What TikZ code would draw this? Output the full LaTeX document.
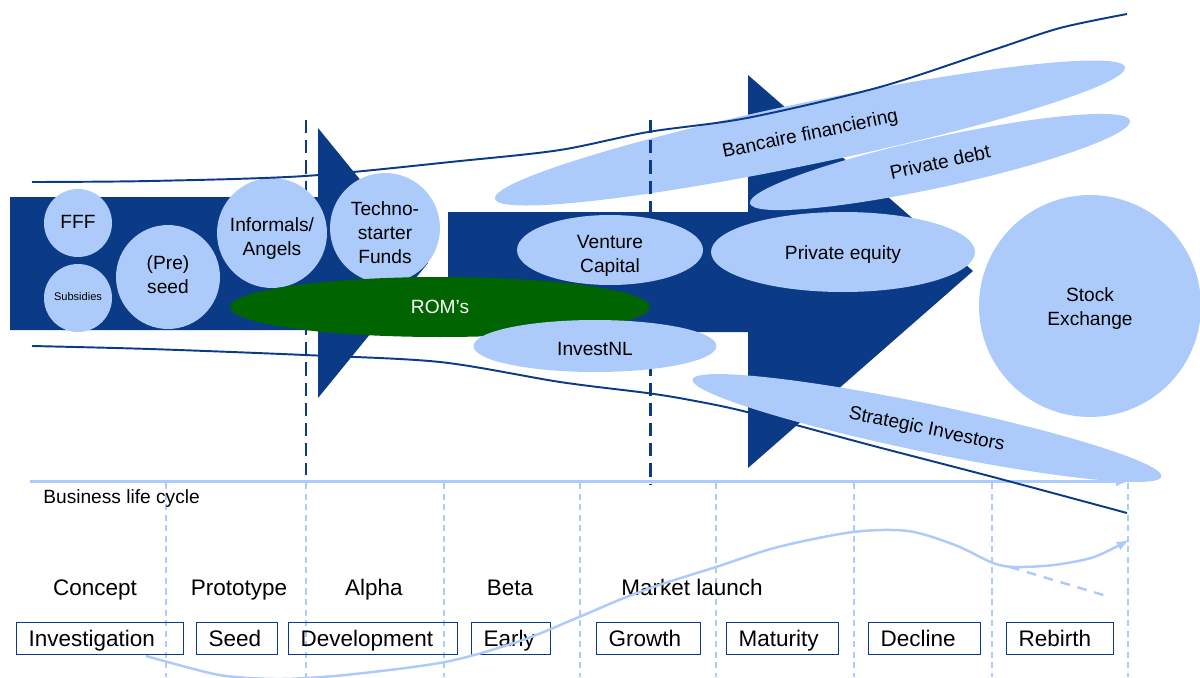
\documentclass[tikz,border=0pt]{standalone}
\usepackage{fontspec}
\setmainfont{Liberation Sans}
\usepackage{xcolor}
\usepackage{tikz}
\usetikzlibrary{shapes,shapes.geometric}
\usetikzlibrary{arrows}

\definecolor{navy}{RGB}{11,58,135}
\definecolor{sky}{RGB}{173,203,250}
\definecolor{romgreen}{RGB}{0,100,0}

% label text, lowered a little inside its shape
\newcommand{\shiftlabel}[2]{\raisebox{-#1}[\height][\depth]{\begin{tabular}{@{}c@{}}#2\end{tabular}}}

\begin{document}
\begin{tikzpicture}[x=0.02cm,y=-0.02cm,
    every node/.style={inner sep=0pt,font=\fontsize{10.9}{13.6}\selectfont},
    bubble/.style={circle,fill=sky},
    blob/.style={ellipse,fill=sky},
    stage/.style={anchor=base,font=\fontsize{12.8}{15}\selectfont},
    stagebox/.style={draw=navy,line width=0.6pt,minimum height=0.632cm,
        inner xsep=0.24cm,align=left,anchor=west,text height=9.17pt,text depth=0pt,
        font=\fontsize{12.8}{15}\selectfont}]

    \useasboundingbox (0,0) rectangle (1200,677);

    %the two dark arrows: early stage and later stage
    \fill[navy] (10,197) -- (318,197) -- (318,128) -- (428,263)
        -- (318,398) -- (318,330) -- (10,330) -- cycle;
    \fill[navy] (448,212) -- (748,212) -- (748,75) -- (973,271)
        -- (748,468) -- (748,332) -- (448,332) -- cycle;

    %debt on top of the big head
    \node[blob,minimum width=12.88cm,minimum height=1.24cm,rotate=11.8] (bank)
        at (810,133) {\shiftlabel{1.1pt}{Bancaire financiering}};
    \node[blob,minimum width=7.78cm,minimum height=1.0cm,rotate=12.3] (debt)
        at (940,162) {\shiftlabel{1.1pt}{Private debt}};

    %phase borders
    \draw[navy,line width=1.7pt,dash pattern=on 7.5pt off 4pt] (306,120) -- (306,475);
    \draw[navy,line width=1.7pt,dash pattern=on 7.5pt off 4pt] (650,120) -- (650,485);

    %early money
    \node[bubble,minimum size=1.36cm] (fff) at (78,223) {\shiftlabel{0.6pt}{FFF}};
    \node[bubble,minimum size=1.36cm,font=\fontsize{6.3}{7.5}\selectfont] (subs)
        at (78,298) {\shiftlabel{0pt}{Subsidies}};
    \node[bubble,minimum size=2.08cm] (preseed) at (168,277) {\shiftlabel{0pt}{(Pre)\\seed}};
    \node[bubble,minimum size=2.2cm] (angels) at (272,233) {\shiftlabel{3pt}{Informals/\\Angels}};
    \node[bubble,minimum size=2.2cm] (techno) at (385,228)
        {\shiftlabel{3.8pt}{Techno-\\starter\\Funds}};

    \node[ellipse,fill=romgreen,text=white,minimum width=8.4cm,minimum height=1.2cm] (roms)
        at (440,307) {\shiftlabel{1.1pt}{ROM’s}};
    \node[blob,minimum width=4.86cm,minimum height=1.04cm] (investnl)
        at (595,346) {\shiftlabel{2.8pt}{InvestNL}};
    \node[blob,minimum width=3.72cm,minimum height=1.4cm] (venture)
        at (610,250) {\shiftlabel{3.4pt}{Venture\\Capital}};
    \node[blob,minimum width=5.28cm,minimum height=1.6cm] (equity)
        at (843,252) {\shiftlabel{1.4pt}{Private equity}};
    \node[bubble,minimum size=4.44cm] (stock) at (1090,306) {\shiftlabel{1.4pt}{Stock\\Exchange}};

    %time axis
    \draw[sky,line width=1.7pt,-latex] (30,481) -- (1130,481);

    \node[blob,minimum width=9.58cm,minimum height=0.96cm,rotate=-11.7] (strategic)
        at (927,428) {\shiftlabel{1.1pt}{Strategic Investors}};

    %funnel borders
    \draw[navy,line width=1.1pt] plot[smooth] coordinates {(32,182) (150,181) (305,176)
        (460,161) (560,150) (648,132) (747,118) (880,87) (993,50) (1060,28) (1127,14)};
    \draw[navy,line width=1.1pt] plot[smooth] coordinates {(32,346) (150,349) (305,355)
        (440,362) (560,382) (647,393) (690,400) (747,412) (870,445) (993,477) (1127,513)};

    %life cycle grid
    \draw[sky,line width=0.9pt,dash pattern=on 3.5pt off 2.5pt]
        (166,483) -- (166,677) (306,483) -- (306,677) (444,483) -- (444,677)
        (580,483) -- (580,677) (716,483) -- (716,677) (854,483) -- (854,677)
        (992,483) -- (992,677) (1128,483) -- (1128,677);

    \node[anchor=base west] (cycle) at (43,503) {Business life cycle};

    %product stages
    \node[stage] (concept) at (95,595) {Concept};
    \node[stage] (prototype) at (239,595) {Prototype};
    \node[stage] (alpha) at (374,595) {Alpha};
    \node[stage] (beta) at (510,595) {Beta};
    \node[stage] (launch) at (692,595) {Market launch};

    %company stages
    \node[stagebox,text width=2.86cm] (investigation) at (16,638.5) {Investigation};
    \node[stagebox,text width=1.14cm] (seed) at (196,638.5) {Seed};
    \node[stagebox,text width=2.90cm] (development) at (288,638.5) {Development};
    \node[stagebox,text width=1.10cm] (early) at (471,638.5) {Early};
    \node[stagebox,text width=1.60cm] (growth) at (596,638.5) {Growth};
    \node[stagebox,text width=1.76cm] (maturity) at (726,638.5) {Maturity};
    \node[stagebox,text width=1.76cm] (decline) at (868,638.5) {Decline};
    \node[stagebox,text width=1.66cm] (rebirth) at (1006,638.5) {Rebirth};

    %the life cycle curve
    \draw[sky,line width=1.4pt,-latex] plot[smooth] coordinates {(146,656) (190,668)
        (226,676) (280,679) (345,675) (445,662) (520,641) (579,617) (619,600) (659,585)
        (716,567) (778,547) (853,532) (908,531) (955,545) (993,563) (1015,567)
        (1054,565) (1094,557) (1129,540)};
    \draw[sky,line width=1.4pt,dash pattern=on 5.5pt off 4.5pt] (1010,567) -- (1110,597);
\end{tikzpicture}
\end{document}
